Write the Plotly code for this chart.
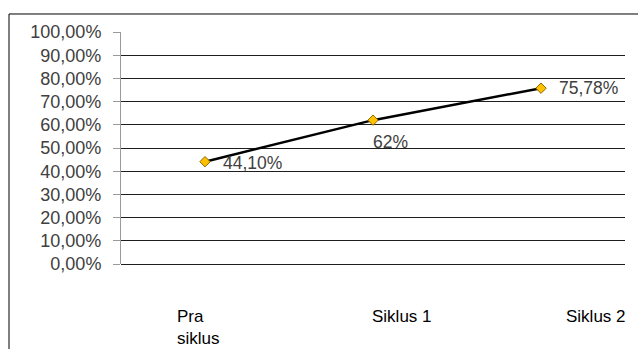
import plotly.graph_objects as go

categories = ["Pra siklus", "Siklus 1", "Siklus 2"]
category_labels = ["Pra<br>siklus", "Siklus 1", "Siklus 2"]
values = [44.10, 62.0, 75.78]
value_labels = ["44,10%", "62%", "75,78%"]
label_dx = [16, -2, 16]
label_dy = [-1, -22, 0]
cat_shifts = [-7, 29, 55]

fig = go.Figure()
fig.add_trace(go.Scatter(
    x=categories, y=values, mode="lines+markers",
    line=dict(color="black", width=2.5),
    marker=dict(symbol="diamond", size=8, color="#FFC000",
                line=dict(color="#8A6A00", width=1)),
    cliponaxis=False, showlegend=False,
))

for c, v, t, dx, dy in zip(categories, values, value_labels, label_dx, label_dy):
    fig.add_annotation(x=c, y=v, xref="x", yref="y", text=t, showarrow=False,
                       xanchor="left", yanchor="middle", xshift=dx, yshift=dy,
                       font=dict(family="Liberation Sans", size=17.5, color="#404040"))

for c, lab, s in zip(categories, category_labels, cat_shifts):
    fig.add_annotation(x=c, y=0, xref="x", yref="y", text=lab, showarrow=False,
                       xanchor="center", yanchor="top", yshift=-41, xshift=s,
                       align="left",
                       font=dict(family="Liberation Sans", size=17, color="black"))

fig.add_shape(type="rect", xref="paper", yref="paper",
              x0=-0.2222, x1=1.04, y0=-0.4, y1=1.0776,
              line=dict(color="black", width=1), layer="below")

fig.update_layout(
    width=638, height=349,
    margin=dict(l=121, r=13, t=32, b=85),
    paper_bgcolor="white", plot_bgcolor="white",
    separators=", ",
    xaxis=dict(type="category", range=[-0.5, 2.5], showticklabels=False,
               showgrid=False, zeroline=False, showline=False, ticks=""),
    yaxis=dict(range=[0, 100], dtick=10, tickformat=".2f", ticksuffix="%",
               showgrid=True, gridcolor="#1e1e1e", gridwidth=1,
               zeroline=True, zerolinecolor="#1e1e1e", zerolinewidth=1,
               showline=True, linecolor="#9a9a9a", linewidth=1,
               ticks="outside", ticklen=7, tickcolor="#9a9a9a",
               ticklabelstandoff=8,
               tickfont=dict(family="Liberation Sans", size=18, color="#404040")),
)

fig.write_html("out.html")
